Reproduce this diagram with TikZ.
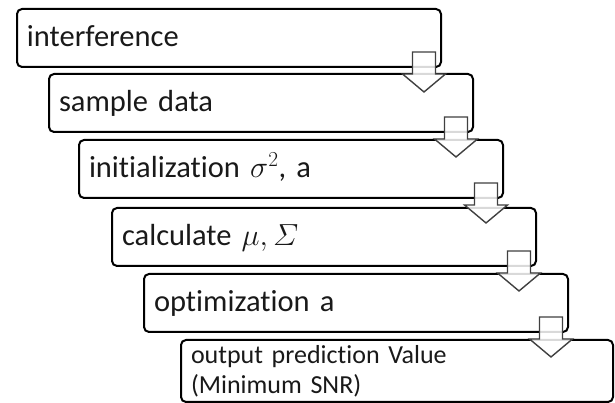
\RequirePackage{fix-cm}
\documentclass[tikz,border=0pt]{standalone}
\usepackage{amsmath}
\usepackage{fontspec}
\setmainfont{Carlito}[Ligatures=NoCommon]
\usetikzlibrary{calc}

\tikzset{
  stepbox/.style={draw=black, line width=2pt, rounded corners=5pt, anchor=north west,
    inner xsep=10pt, inner ysep=0pt, text width=404pt, align=left, minimum height=58pt,
    text height=22pt, text depth=4pt, text=black!90, font=\fontsize{30.5}{36}\selectfont},
  flowarrow/.style={draw=black!75, line width=1.4pt, fill=white, fill opacity=0.85}
}

\begin{document}
\begin{tikzpicture}[x=1pt,y=1pt]
\useasboundingbox (0,0) rectangle (615,403);

% Steps
\node[stepbox] (interf) at (16,395) {interference};
\node[stepbox] (sample) at (48,330) {sample data};
\node[stepbox] (init) at (78,264) {initialization $\sigma^2$, a};
\node[stepbox] (calcmu) at (111,196) {calculate $\mu, \varSigma$};
\node[stepbox] (optim) at (143,130) {optimization a};
\node[stepbox, text width=412pt, minimum height=62pt, text height={}, text depth={},
  font=\fontsize{26}{30}\selectfont] (output) at (180,64) {output prediction Value\\(Minimum SNR)};

% Arrows between steps
\foreach \a in {interf,sample,init,calcmu,optim}
  \draw[flowarrow] ($(\a.south east)+(-18,0)$) ++(-11.5,16) -- ++(23,0) -- ++(0,-22)
    -- ++(10,0) -- ++(-21.5,-18) -- ++(-21.5,18) -- ++(10,0) -- cycle;
\end{tikzpicture}
\end{document}
